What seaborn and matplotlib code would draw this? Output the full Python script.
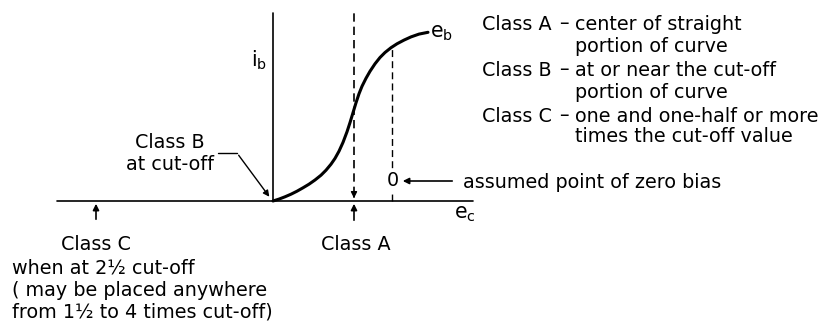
import numpy as np
import pandas as pd
import matplotlib
matplotlib.use("Agg")
import matplotlib.pyplot as plt
import seaborn as sns

# ---- data (origin = cut-off point on the e_c axis) ----
curve_ec = [0, 6, 12, 18, 24, 30, 36, 42, 48, 53, 58, 62, 66, 70, 74, 77, 80, 83, 86, 89,
            93, 97, 102, 107, 112, 118, 124, 131, 138, 146, 155]
curve_ib = [0, 1.9, 4.2, 6.8, 9.8, 13.2, 16.8, 21.0, 25.8, 30.8, 36.8, 42.6, 49.8, 58.6, 69.2, 78.4,
            88.3, 98.2, 107.2, 114.7, 122.7, 129.7, 137.2, 143.5, 148.5, 153.3, 157.2, 160.9, 164.1,
            166.9, 168.7]

ec_axis = [-216, 200]
ib_axis = [0, 188]
class_a_ec = 81
class_a_top = 188
zero_bias_ec = 119
zero_bias_ib = 20
class_c_ec = -177

legend_left = ["Class A", "", "Class B", "", "Class C", ""]
legend_right = ["center of straight", "portion of curve", "at or near the cut-off",
                "portion of curve", "one and one-half or more", "times the cut-off value"]
legend_y = [177, 155, 131, 109, 85, 64]

class_c_lines = ["when at 2\u00bd cut-off", "( may be placed anywhere", "from 1\u00bd to 4 times cut-off)"]

# ---- setup ----
sns.set_style("white")
plt.rcParams["font.family"] = ["DejaVu Sans"]
plt.rcParams["text.color"] = "black"
fs = 13.8

fig = plt.figure(figsize=(8.34, 3.21), dpi=100)
ax = fig.add_axes([0, 0, 1, 1])
ax.set_xlim(-273, 561)
ax.set_ylim(-120, 201)
ax.axis("off")

# ---- axes of the characteristic ----
ax.plot(ec_axis, [0, 0], color="black", lw=1.2)
ax.plot([0, 0], ib_axis, color="black", lw=1.2)

# ---- curve ----
df = pd.DataFrame({"ec": curve_ec, "ib": curve_ib})
sns.lineplot(data=df, x="ec", y="ib", ax=ax, color="black", lw=2.2, sort=False,
             solid_joinstyle="round", solid_capstyle="round")

# ---- class A dashed line and arrows ----
ax.plot([class_a_ec, class_a_ec], [6, class_a_top], color="black", lw=1.2, ls=(0, (5, 3)))
ax.annotate("", xy=(class_a_ec, 0), xytext=(class_a_ec, 8),
            arrowprops=dict(arrowstyle="-|>", color="black", lw=1, mutation_scale=9))
ax.annotate("", xy=(class_a_ec, 0), xytext=(class_a_ec, -22),
            arrowprops=dict(arrowstyle="-|>", color="black", lw=1.2, mutation_scale=9))
ax.text(class_a_ec + 2, -44, "Class A", fontsize=fs, ha="center", va="center")

# ---- zero bias dashed line ----
ax.plot([zero_bias_ec, zero_bias_ec], [0, 153], color="black", lw=1.0, ls=(0, (5, 3)))
ax.text(zero_bias_ec + 1, zero_bias_ib, "0", fontsize=fs, ha="center", va="center",
        bbox=dict(facecolor="white", edgecolor="none", pad=0.5))
ax.annotate("", xy=(zero_bias_ec + 8, zero_bias_ib), xytext=(182, zero_bias_ib),
            arrowprops=dict(arrowstyle="-|>", color="black", lw=1.2, mutation_scale=9))
ax.text(190, zero_bias_ib - 2, "assumed point of zero bias", fontsize=fs, ha="left", va="center")

# ---- axis labels ----
ax.text(-14, 141, r"$\mathregular{i_b}$", fontsize=fs + 1, ha="center", va="center")
ax.text(169, 168, r"$\mathregular{e_b}$", fontsize=fs + 1, ha="center", va="center")
ax.text(192, -13, r"$\mathregular{e_c}$", fontsize=fs + 1, ha="center", va="center")

# ---- class B label with leader ----
ax.text(-103, 58, "Class B", fontsize=fs, ha="center", va="center")
ax.text(-103, 36, "at cut-off", fontsize=fs, ha="center", va="center")
ax.plot([-55, -36], [48, 48], color="black", lw=1.0)
ax.annotate("", xy=(-2, 2), xytext=(-36, 48),
            arrowprops=dict(arrowstyle="-|>", color="black", lw=1.0, mutation_scale=9))

# ---- class C label ----
ax.annotate("", xy=(class_c_ec, 0), xytext=(class_c_ec, -21),
            arrowprops=dict(arrowstyle="-|>", color="black", lw=1.2, mutation_scale=9))
ax.text(class_c_ec, -44, "Class C", fontsize=fs, ha="center", va="center")
for i, line in enumerate(class_c_lines):
    ax.text(-261, -67 - 22 * i, line, fontsize=fs, ha="left", va="center")

# ---- legend text on the right ----
for left, right, y in zip(legend_left, legend_right, legend_y):
    if left:
        ax.text(209, y, left, fontsize=fs, ha="left", va="center")
        ax.text(291, y, "\u2013", fontsize=fs, ha="center", va="center")
    ax.text(302, y, right, fontsize=fs, ha="left", va="center")

fig.savefig("out.png", dpi=100)
